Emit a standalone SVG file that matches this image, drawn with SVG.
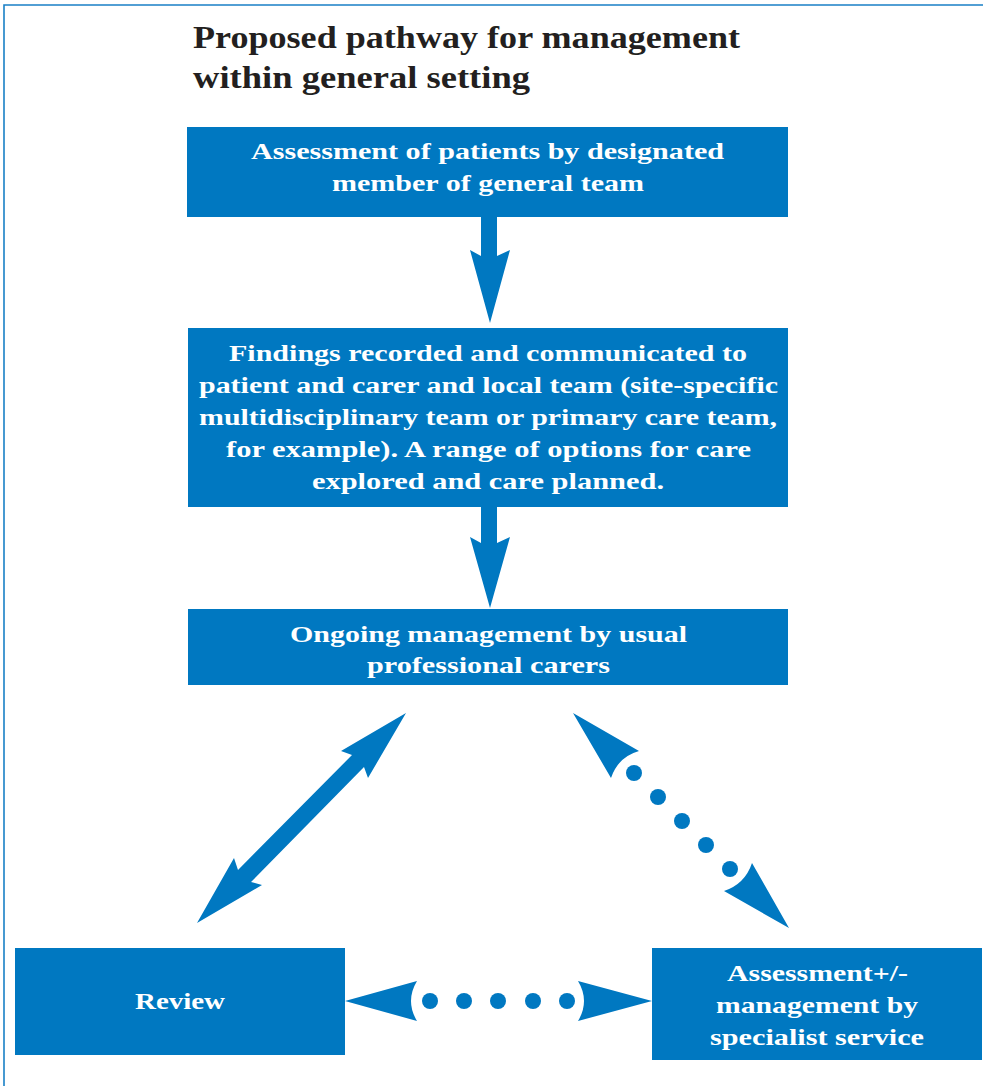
<svg xmlns="http://www.w3.org/2000/svg" width="983" height="1086" viewBox="0 0 983 1086">
<style>
.box{fill:#0078c1}
.conn{fill:#0078c1}
.t{font-family:"Liberation Serif","DejaVu Serif",serif;font-weight:bold;font-size:24px;fill:#ffffff;text-anchor:middle}
.title{font-family:"Liberation Serif","DejaVu Serif",serif;font-weight:bold;font-size:31px;fill:#231f20}
.frame{fill:none;stroke:#1a80c6;stroke-width:1.6}
</style>
<rect width="983" height="1086" fill="#ffffff"/>
<path class="frame" d="M4,1086 V5 H983"/>
<g id="title">
<text class="title" x="193" y="48" textLength="547" lengthAdjust="spacingAndGlyphs">Proposed pathway for management</text>
<text class="title" x="193" y="88" textLength="337" lengthAdjust="spacingAndGlyphs">within general setting</text>
</g>
<g id="node-assessment">
<rect class="box" x="187" y="127" width="601" height="90"/>
<text class="t" x="487.5" y="159" textLength="473" lengthAdjust="spacingAndGlyphs">Assessment of patients by designated</text>
<text class="t" x="488" y="191" textLength="312" lengthAdjust="spacingAndGlyphs">member of general team</text>
</g>
<g id="node-findings">
<rect class="box" x="188" y="328" width="600" height="179"/>
<text class="t" x="488" y="361" textLength="518" lengthAdjust="spacingAndGlyphs">Findings recorded and communicated to</text>
<text class="t" x="488.5" y="393" textLength="579" lengthAdjust="spacingAndGlyphs">patient and carer and local team (site-specific</text>
<text class="t" x="488" y="425" textLength="578" lengthAdjust="spacingAndGlyphs">multidisciplinary team or primary care team,</text>
<text class="t" x="488.5" y="457" textLength="525" lengthAdjust="spacingAndGlyphs">for example). A range of options for care</text>
<text class="t" x="488" y="489" textLength="352" lengthAdjust="spacingAndGlyphs">explored and care planned.</text>
</g>
<g id="node-ongoing">
<rect class="box" x="188" y="609" width="600" height="76"/>
<text class="t" x="488.5" y="642" textLength="397" lengthAdjust="spacingAndGlyphs">Ongoing management by usual</text>
<text class="t" x="488.5" y="673" textLength="243" lengthAdjust="spacingAndGlyphs">professional carers</text>
</g>
<g id="node-review">
<rect class="box" x="15" y="948" width="330" height="107"/>
<text class="t" x="180" y="1009" textLength="90" lengthAdjust="spacingAndGlyphs">Review</text>
</g>
<g id="node-specialist">
<rect class="box" x="652" y="948" width="330" height="112"/>
<text class="t" x="817.5" y="981" textLength="181" lengthAdjust="spacingAndGlyphs">Assessment+/-</text>
<text class="t" x="817" y="1013" textLength="202" lengthAdjust="spacingAndGlyphs">management by</text>
<text class="t" x="817" y="1045" textLength="214" lengthAdjust="spacingAndGlyphs">specialist service</text>
</g>
<g id="connectors">
<polygon class="conn" points="481,217 497,217 497,256 510,250 490,323 470,250 481,256"/>
<polygon class="conn" points="481,507 497,507 497,543 510,537 490,608 470,537 481,543"/>
<polygon class="conn" points="406,713 368,778 364,767 251,882 262,885 197,923 234,858 238,870 352,755 341,751"/>
<path class="conn" d="M573,713 L639,751 Q618,757 611,778 Z"/>
<path class="conn" d="M789,928 L724,891 Q745,884 752,863 Z"/>
<circle class="conn" cx="634" cy="773" r="8"/>
<circle class="conn" cx="658" cy="797" r="8"/>
<circle class="conn" cx="682" cy="821" r="8"/>
<circle class="conn" cx="706" cy="845" r="8"/>
<circle class="conn" cx="730" cy="869" r="8"/>
<path class="conn" d="M345,1001 L417,981 Q405,1001 417,1021 Z"/>
<path class="conn" d="M652,1001 L578,981 Q590,1001 578,1021 Z"/>
<circle class="conn" cx="430" cy="1001" r="8"/>
<circle class="conn" cx="464" cy="1001" r="8"/>
<circle class="conn" cx="498" cy="1001" r="8"/>
<circle class="conn" cx="533" cy="1001" r="8"/>
<circle class="conn" cx="567" cy="1001" r="8"/>
</g>
</svg>
